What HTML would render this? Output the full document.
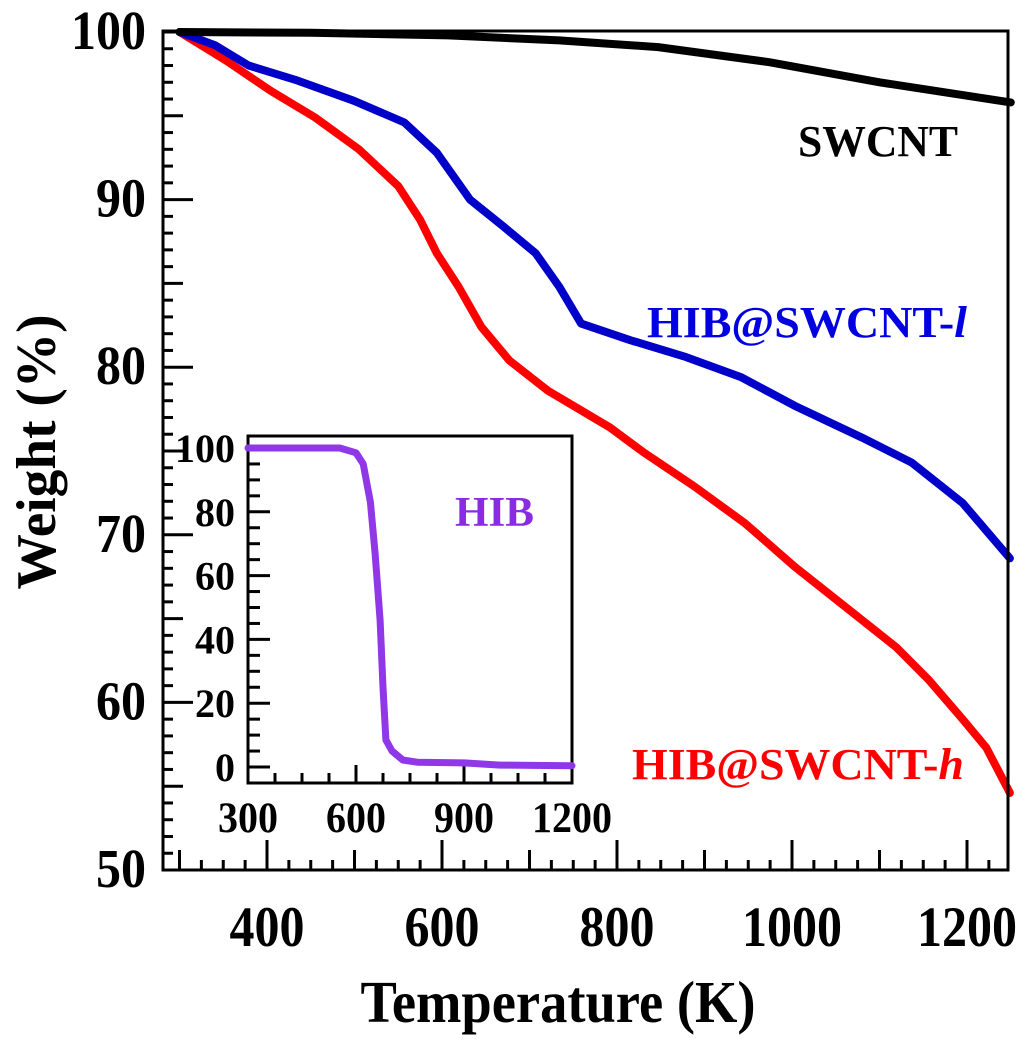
<!DOCTYPE html>
<html><head><meta charset="utf-8"><style>
html,body{margin:0;padding:0;background:#fff;}
svg{display:block;font-family:"Liberation Serif",serif;font-weight:bold;}
</style></head><body>
<svg id="chart" width="1024" height="1039" viewBox="0 0 1024 1039" xmlns="http://www.w3.org/2000/svg"></svg>
<script>
// main chart data
const swcntT = [300, 450, 607, 734, 847, 974, 1100, 1250];
const swcntW = [100, 99.95, 99.8, 99.5, 99.1, 98.2, 97.0, 95.8];
const lowT = [300, 341, 379, 435, 499, 557, 594, 632, 670, 707, 734, 759, 816, 879, 942, 1003, 1080, 1137, 1195, 1249];
const lowW = [100, 99.2, 98.0, 97.1, 95.9, 94.6, 92.8, 90.0, 88.4, 86.8, 84.8, 82.6, 81.6, 80.6, 79.4, 77.7, 75.8, 74.3, 71.9, 68.6];
const highT = [300, 353, 404, 455, 505, 550, 575, 594, 619, 645, 677, 721, 792, 831, 888, 946, 1003, 1061, 1119, 1157, 1195, 1222, 1249];
const highW = [100, 98.3, 96.5, 94.9, 93.0, 90.8, 88.8, 86.8, 84.8, 82.4, 80.4, 78.6, 76.4, 74.9, 72.9, 70.7, 68.1, 65.7, 63.3, 61.3, 59.0, 57.3, 54.6];
const xTicks = [400, 600, 800, 1000, 1200];
const yTicks = [50, 60, 70, 80, 90, 100];
// inset data
const hibT = [300, 555, 600, 620, 640, 653, 667, 675, 683, 700, 730, 770, 900, 1000, 1200];
const hibW = [100, 100, 98.5, 95, 83, 67, 46, 25, 8.5, 5, 2.2, 1.5, 1.3, 0.6, 0.4];
const insetXTicks = [300, 600, 900, 1200];
const insetYTicks = [0, 20, 40, 60, 80, 100];

const NS = "http://www.w3.org/2000/svg";
const svg = document.getElementById("chart");
function mk(tag, attrs, parent) {
  const e = document.createElementNS(NS, tag);
  for (const k in attrs) e.setAttribute(k, attrs[k]);
  (parent || svg).appendChild(e);
  return e;
}
const L = 163, R = 1008, T = 31, B = 870;
const xs = k => 267 + (k - 400) * 0.875;
const ys = w => 32 + (100 - w) * (B - 32) / 50;
const iL = 248, iR = 572, iT = 436, iB = 783;
const ixs = k => iL + (k - 300) * (iR - iL) / 900;
const iys = w => 767 - w * (767 - 448) / 100;

function stretchedText(str, x, y, size, anchor, fill, sy) {
  const t = mk("text", {x: 0, y: 0, "font-size": size, "text-anchor": anchor, fill: fill,
    transform: `translate(${x},${y}) scale(1,${sy})`});
  t.textContent = str;
  return t;
}

const mainTicks = mk("g", {stroke: "#000", "stroke-width": 3});


for (let w = 50; w <= 100; w++) {
  const len = w % 10 === 0 ? 30 : (w % 5 === 0 ? 20 : 10);
  mk("line", {x1: L, x2: L + len, y1: ys(w), y2: ys(w)}, mainTicks);
}
for (let k = 300; k <= 1240; k += 25) {
  if (xs(k) <= L) continue;
  const len = k % 200 === 0 ? 30 : (k % 100 === 0 ? 20 : 10);
  mk("line", {x1: xs(k), x2: xs(k), y1: B, y2: B - len}, mainTicks);
}
xTicks.forEach(v => {
  const t = stretchedText(String(v), xs(v), 946, 50, "middle", "#000", 1.15);
  
  
});
yTicks.forEach(v => {
  const t = stretchedText(String(v), 146, ys(v) + 17, 50, "end", "#000", 1.1);
  
  
});
const xt = stretchedText("Temperature (K)", 558, 1022, 54, "middle", "#000", 1.1);
xt.setAttribute("textLength", 395);
xt.setAttribute("lengthAdjust", "spacingAndGlyphs");


const yt = mk("text", {x: 0, y: 0, "font-size": 56, "text-anchor": "middle",
  transform: "translate(55,452) rotate(-90)", textLength: 275, lengthAdjust: "spacingAndGlyphs"});
yt.textContent = "Weight (%)";



function series(T_, W_, fx, fy, color, width, name) {
  const d = T_.map((k, i) => (i ? "L" : "M") + fx(k).toFixed(1) + "," + fy(W_[i]).toFixed(1)).join("");
  const p = mk("path", {d: d, fill: "none", stroke: color, "stroke-width": width, "stroke-linejoin": "round", "stroke-linecap": "round"});
  
  
}
series(highT, highW, xs, ys, "#ff0000", 8, "hib-swcnt-h-line");
series(lowT, lowW, xs, ys, "#0000c8", 8, "hib-swcnt-l-line");
series(swcntT, swcntW, xs, ys, "#000000", 8, "swcnt-line");

const fr = mk("rect", {x: L, y: T, width: R - L, height: B - T, fill: "none", stroke: "#000", "stroke-width": 3});



const l1 = mk("text", {x: 798, y: 156, "font-size": 44, fill: "#000", textLength: 160, lengthAdjust: "spacingAndGlyphs"});
l1.textContent = "SWCNT";


const l2 = mk("text", {x: 647, y: 337, "font-size": 44, fill: "#0000e0", textLength: 320, lengthAdjust: "spacingAndGlyphs"});
l2.innerHTML = 'HIB@SWCNT-<tspan font-style="italic">l</tspan>';


const l3 = mk("text", {x: 632, y: 779, "font-size": 44, fill: "#ff0000", textLength: 332, lengthAdjust: "spacingAndGlyphs"});
l3.innerHTML = 'HIB@SWCNT-<tspan font-style="italic">h</tspan>';



const inset = mk("g", {});


mk("rect", {x: iL, y: iT, width: iR - iL, height: iB - iT, fill: "#fff", stroke: "none"}, inset);
const iticks = mk("g", {stroke: "#000", "stroke-width": 3}, inset);
for (let w = 0; w <= 100; w += 5) {
  const len = w % 20 === 0 ? 22 : 12;
  mk("line", {x1: iL, x2: iL + len, y1: iys(w), y2: iys(w)}, iticks);
}
for (let k = 375; k < 1200; k += 75) {
  const len = k % 300 === 0 ? 18 : 10;
  mk("line", {x1: ixs(k), x2: ixs(k), y1: iB, y2: iB - len}, iticks);
}
insetXTicks.forEach(v => {
  const t = stretchedText(String(v), ixs(v), 832, 40, "middle", "#000", 1.08);
  
  
});
insetYTicks.forEach(v => {
  const t = stretchedText(String(v), 235, iys(v) + 14, 40, "end", "#000", 1.0);
  
  
});
series(hibT, hibW, ixs, iys, "#9038e8", 7, "hib-line");
const ifr = mk("rect", {x: iL, y: iT, width: iR - iL, height: iB - iT, fill: "none", stroke: "#000", "stroke-width": 3}, inset);


const hl = mk("text", {x: 455, y: 526, "font-size": 42, fill: "#8a2be2", textLength: 79, lengthAdjust: "spacingAndGlyphs"});
hl.textContent = "HIB";


</script>
</body></html>
